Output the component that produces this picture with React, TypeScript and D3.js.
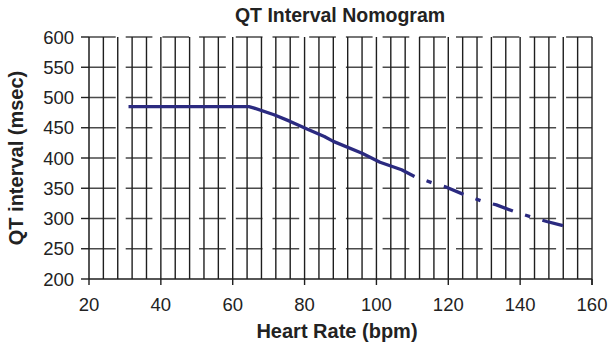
import * as d3 from 'd3'

// QT nomogram: heart rate (bpm) vs QT interval (msec)
const heartRate = [31, 64.5, 66, 71.5, 76, 81, 85.5, 88, 96, 101, 107, 110.6]
const qtInterval = [485, 485, 482.5, 471.5, 460.5, 447, 435.5, 427.5, 408, 393, 380.5, 369.5]
// the broken (dashed) tail of the curve
const tailRate = [110.6, 115.7, 119, 124.6, 129.7, 133.4, 139, 143.7, 147.4, 153]
const tailQt = [369.5, 358.5, 352.8, 339, 328, 322.5, 310, 301.5, 295, 286.5]

const xTicks = [20, 40, 60, 80, 100, 120, 140, 160]
const yTicks = [200, 250, 300, 350, 400, 450, 500, 550, 600]

const W = 613
const H = 350
const font = '"Liberation Sans", Arial, Helvetica, sans-serif'

export default function App() {
  const x = d3.scaleLinear().domain([20, 160]).range([89, 592])
  const y = d3.scaleLinear().domain([200, 600]).range([279, 37])

  const minorX = d3.range(24, 160, 4) // grid every 4 bpm
  const line = d3.line<[number, number]>().x((d) => x(d[0])).y((d) => y(d[1]))
  const mainPath = line(heartRate.map((r, i) => [r, qtInterval[i]]))
  const tailPath = line(tailRate.map((r, i) => [r, tailQt[i]]))

  return (
    <svg width={W} height={H} style={{ position: 'absolute', left: 0, top: 0, background: '#fff' }}>
      <text x={340} y={22} textAnchor="middle" fontFamily={font} fontWeight="bold" fontSize={19.5} fill="#222">
        QT Interval Nomogram
      </text>

      {/* horizontal grid, broken like the scan */}
      {yTicks.filter((t) => t > 200).map((t) => (
        <line key={'h' + t} x1={x(20)} x2={x(160)} y1={y(t)} y2={y(t)}
          stroke="#4a4a4a" strokeWidth={1.5} strokeDasharray="26.7 10" />
      ))}
      {/* vertical grid */}
      {minorX.map((t) => (
        <line key={'v' + t} x1={x(t)} x2={x(t)} y1={y(600)} y2={y(200)} stroke="#1e1e1e" strokeWidth={1.4} />
      ))}
      <line x1={x(160)} x2={x(160)} y1={y(600)} y2={y(200) + 6} stroke="#1e1e1e" strokeWidth={1.4} />

      {/* axes */}
      <line x1={x(20)} x2={x(20)} y1={y(600)} y2={y(200)} stroke="#1e1e1e" strokeWidth={1.5} />
      <line x1={x(20)} x2={x(160)} y1={y(200)} y2={y(200)} stroke="#1e1e1e" strokeWidth={1.5} />
      {yTicks.map((t) => (
        <g key={'yt' + t}>
          <line x1={x(20) - 8} x2={x(20)} y1={y(t)} y2={y(t)} stroke="#1e1e1e" strokeWidth={1.4} />
          <text x={74} y={y(t)} dy="0.36em" textAnchor="end" fontFamily={font} fontSize={18.5} fill="#222">
            {t}
          </text>
        </g>
      ))}
      {xTicks.map((t) => (
        <g key={'xt' + t}>
          <line x1={x(t)} x2={x(t)} y1={y(200)} y2={y(200) + 6} stroke="#1e1e1e" strokeWidth={1.4} />
          <text x={x(t)} y={311} textAnchor="middle" fontFamily={font} fontSize={18.5} fill="#222">
            {t}
          </text>
        </g>
      ))}

      {/* curve */}
      <path d={mainPath ?? ''} fill="none" stroke="#2b2a80" strokeWidth={3.3} strokeLinejoin="round" />
      <path d={tailPath ?? ''} fill="none" stroke="#2b2a80" strokeWidth={3.3}
        strokeDasharray="5.3 12.8 21.3 12.8" strokeDashoffset={39.4} />

      <text x={337} y={338} textAnchor="middle" fontFamily={font} fontWeight="bold" fontSize={20} fill="#222">
        Heart Rate (bpm)
      </text>
      <text transform={`translate(23,${(y(600) + y(200)) / 2}) rotate(-90)`} textAnchor="middle"
        fontFamily={font} fontWeight="bold" fontSize={20} fill="#222">
        QT interval (msec)
      </text>
    </svg>
  )
}
